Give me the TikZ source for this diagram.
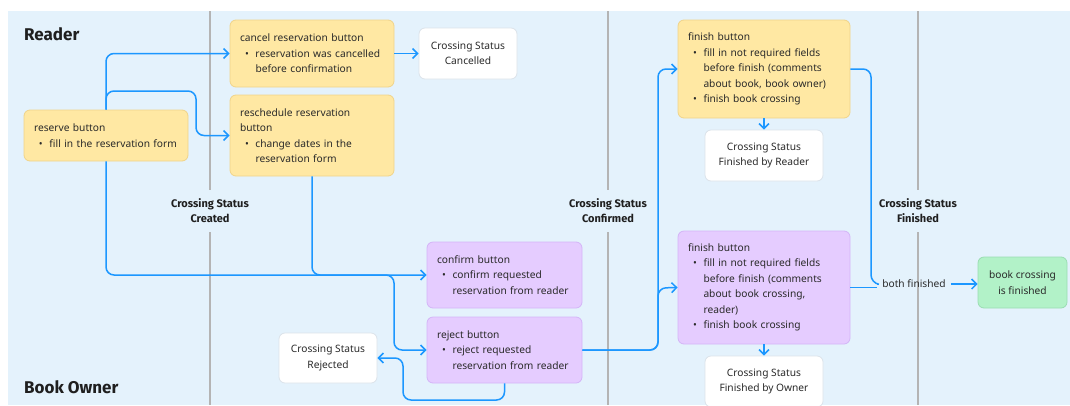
\documentclass[tikz,border=0pt]{standalone}
\usepackage{fontspec}
\setmainfont{Noto Sans}
\newfontfamily\hdfont{Fira Sans}
\usetikzlibrary{arrows.meta}
\definecolor{bg}{HTML}{E4F2FC}
\definecolor{yfill}{HTML}{FFE8A3}
\definecolor{ydraw}{HTML}{F0D48A}
\definecolor{pfill}{HTML}{E5CCFF}
\definecolor{pdraw}{HTML}{D4B5F7}
\definecolor{gfill}{HTML}{B2F2C8}
\definecolor{gdraw}{HTML}{9ADDB2}
\definecolor{wdraw}{HTML}{DCE3EA}
\definecolor{flow}{HTML}{1C97FF}
\definecolor{vl}{HTML}{B4B4B4}
\definecolor{txt}{HTML}{2A2A2A}
\definecolor{hd}{HTML}{1F1F1F}
\newcommand{\mybul}{\hspace*{5pt}\makebox[10.5pt][l]{\textbullet}}
\newcommand{\myind}{\hspace*{15.5pt}}
\begin{document}
\begin{tikzpicture}[x=1pt,y=-1pt,
  base/.style={rounded corners=6pt, line width=0.8pt, text=txt,
    font=\fontsize{10.2}{15.5}\selectfont, inner ysep=2pt},
  ybox/.style={base, fill=yfill, draw=ydraw, align=left, inner xsep=10pt},
  pbox/.style={base, fill=pfill, draw=pdraw, align=left, inner xsep=10pt},
  wbox/.style={base, fill=white, draw=wdraw, align=center},
  gbox/.style={base, fill=gfill, draw=gdraw, align=center},
  status/.style={font=\hdfont\bfseries\fontsize{11}{15.5}\selectfont, text=hd, align=center},
  lane/.style={font=\hdfont\bfseries\fontsize{17}{19}\selectfont, text=hd, anchor=base west},
  vline/.style={draw=vl, line width=1.5pt},
  conn/.style={draw=flow, line width=1.5pt, rounded corners=8pt},
  arr/.style={conn, -{Straight Barb[length=5pt,width=10pt]}}]
\useasboundingbox (0,0) rectangle (1070,405);
\fill[bg] (8,11) rectangle (1070,405);

% swimlane separators
\foreach \x/\n/\s in {210/A/Created, 608/B/Confirmed, 918/C/Finished}{
  \coordinate (t\n) at (\x,11);
  \coordinate (g\n1) at (\x,190);
  \coordinate (g\n2) at (\x,232);
  \coordinate (b\n) at (\x,405);
  \draw[vline] (t\n) -- (g\n1);
  \draw[vline] (g\n2) -- (b\n);
  \node[status] (st\n) at (\x,210.5) {Crossing Status\\\s};
}

\node[lane, inner xsep=0pt] (reader) at (24,40) {Reader};
\node[lane, inner xsep=0pt] (owner) at (24,393) {Book Owner};

% boxes
\node[ybox, minimum width=164pt, minimum height=51pt, text width=144pt] (reserve) at (106,135.5)
  {reserve button\\\mybul fill in the reservation form};
\node[ybox, minimum width=164pt, minimum height=67pt, text width=144pt] (cancel) at (312,53.5)
  {cancel reservation button\\\mybul reservation was cancelled\\\myind before confirmation};
\node[ybox, minimum width=164pt, minimum height=81pt, text width=144pt] (resched) at (312,135.5)
  {reschedule reservation\\button\\\mybul change dates in the\\\myind reservation form};
\node[wbox, minimum width=98pt, minimum height=51pt] (cancelled) at (468,53.5)
  {Crossing Status\\Cancelled};
\node[pbox, minimum width=155pt, minimum height=66pt, text width=135pt] (confirm) at (504.5,275)
  {confirm button\\\mybul confirm requested\\\myind reservation from reader};
\node[pbox, minimum width=155pt, minimum height=66pt, text width=135pt] (reject) at (504.5,350)
  {reject button\\\mybul reject requested\\\myind reservation from reader};
\node[wbox, minimum width=98pt, minimum height=50pt] (rejected) at (328,358)
  {Crossing Status\\Rejected};
\node[ybox, minimum width=172pt, minimum height=98pt, text width=152pt] (finR) at (764,69)
  {finish button\\\mybul fill in not required fields\\\myind before finish (comments\\\myind about book, book owner)\\\mybul finish book crossing};
\node[wbox, minimum width=118pt, minimum height=51pt] (finRs) at (764,155.5)
  {Crossing Status\\Finished by Reader};
\node[pbox, minimum width=172pt, minimum height=113pt, text width=152pt] (finO) at (764,287.5)
  {finish button\\\mybul fill in not required fields\\\myind before finish (comments\\\myind about book crossing,\\\myind reader)\\\mybul finish book crossing};
\node[wbox, minimum width=118pt, minimum height=51pt] (finOs) at (764,381.5)
  {Crossing Status\\Finished by Owner};
\node[gbox, minimum width=89pt, minimum height=51pt] (done) at (1022.5,282.5)
  {book crossing\\is finished};
\node[font=\fontsize{10.2}{12}\selectfont, text=txt, inner xsep=5pt] (both) at (914,284) {both finished};

% waypoints
\coordinate (w1) at (196,91);
\coordinate (w2) at (394,275);
\coordinate (w3) at (403,400);
\coordinate (w4) at (658,69);
\coordinate (w5) at (658,288);
\coordinate (w6) at (871,283);

% connectors
\draw[arr] (reserve.north) |- (cancel.west);
\draw[arr] (reserve.north) |- (w1) |- (resched.west);
\draw[arr] (reserve.south) |- (confirm.west);
\draw[arr] (resched.south) |- (w2) |- (reject.west);
\draw[arr] (cancel.east) -- (cancelled.west);
\draw[arr] (reject.south) |- (w3) |- (rejected.east);
\draw[arr] (reject.east) -| (w4) -- (finR.west);
\draw[arr] (reject.east) -| (w5) -- (finO.west);
\draw[arr] (finR.south) -- (finRs.north);
\draw[arr] (finO.south) -- (finOs.north);
\draw[conn] (finR.east) -| (w6) -- (both.west);
\draw[conn] (finO.east) -- (finO.east -| both.west);
\draw[arr] (both.east) -- (done.west |- both.east);
\end{tikzpicture}
\end{document}
